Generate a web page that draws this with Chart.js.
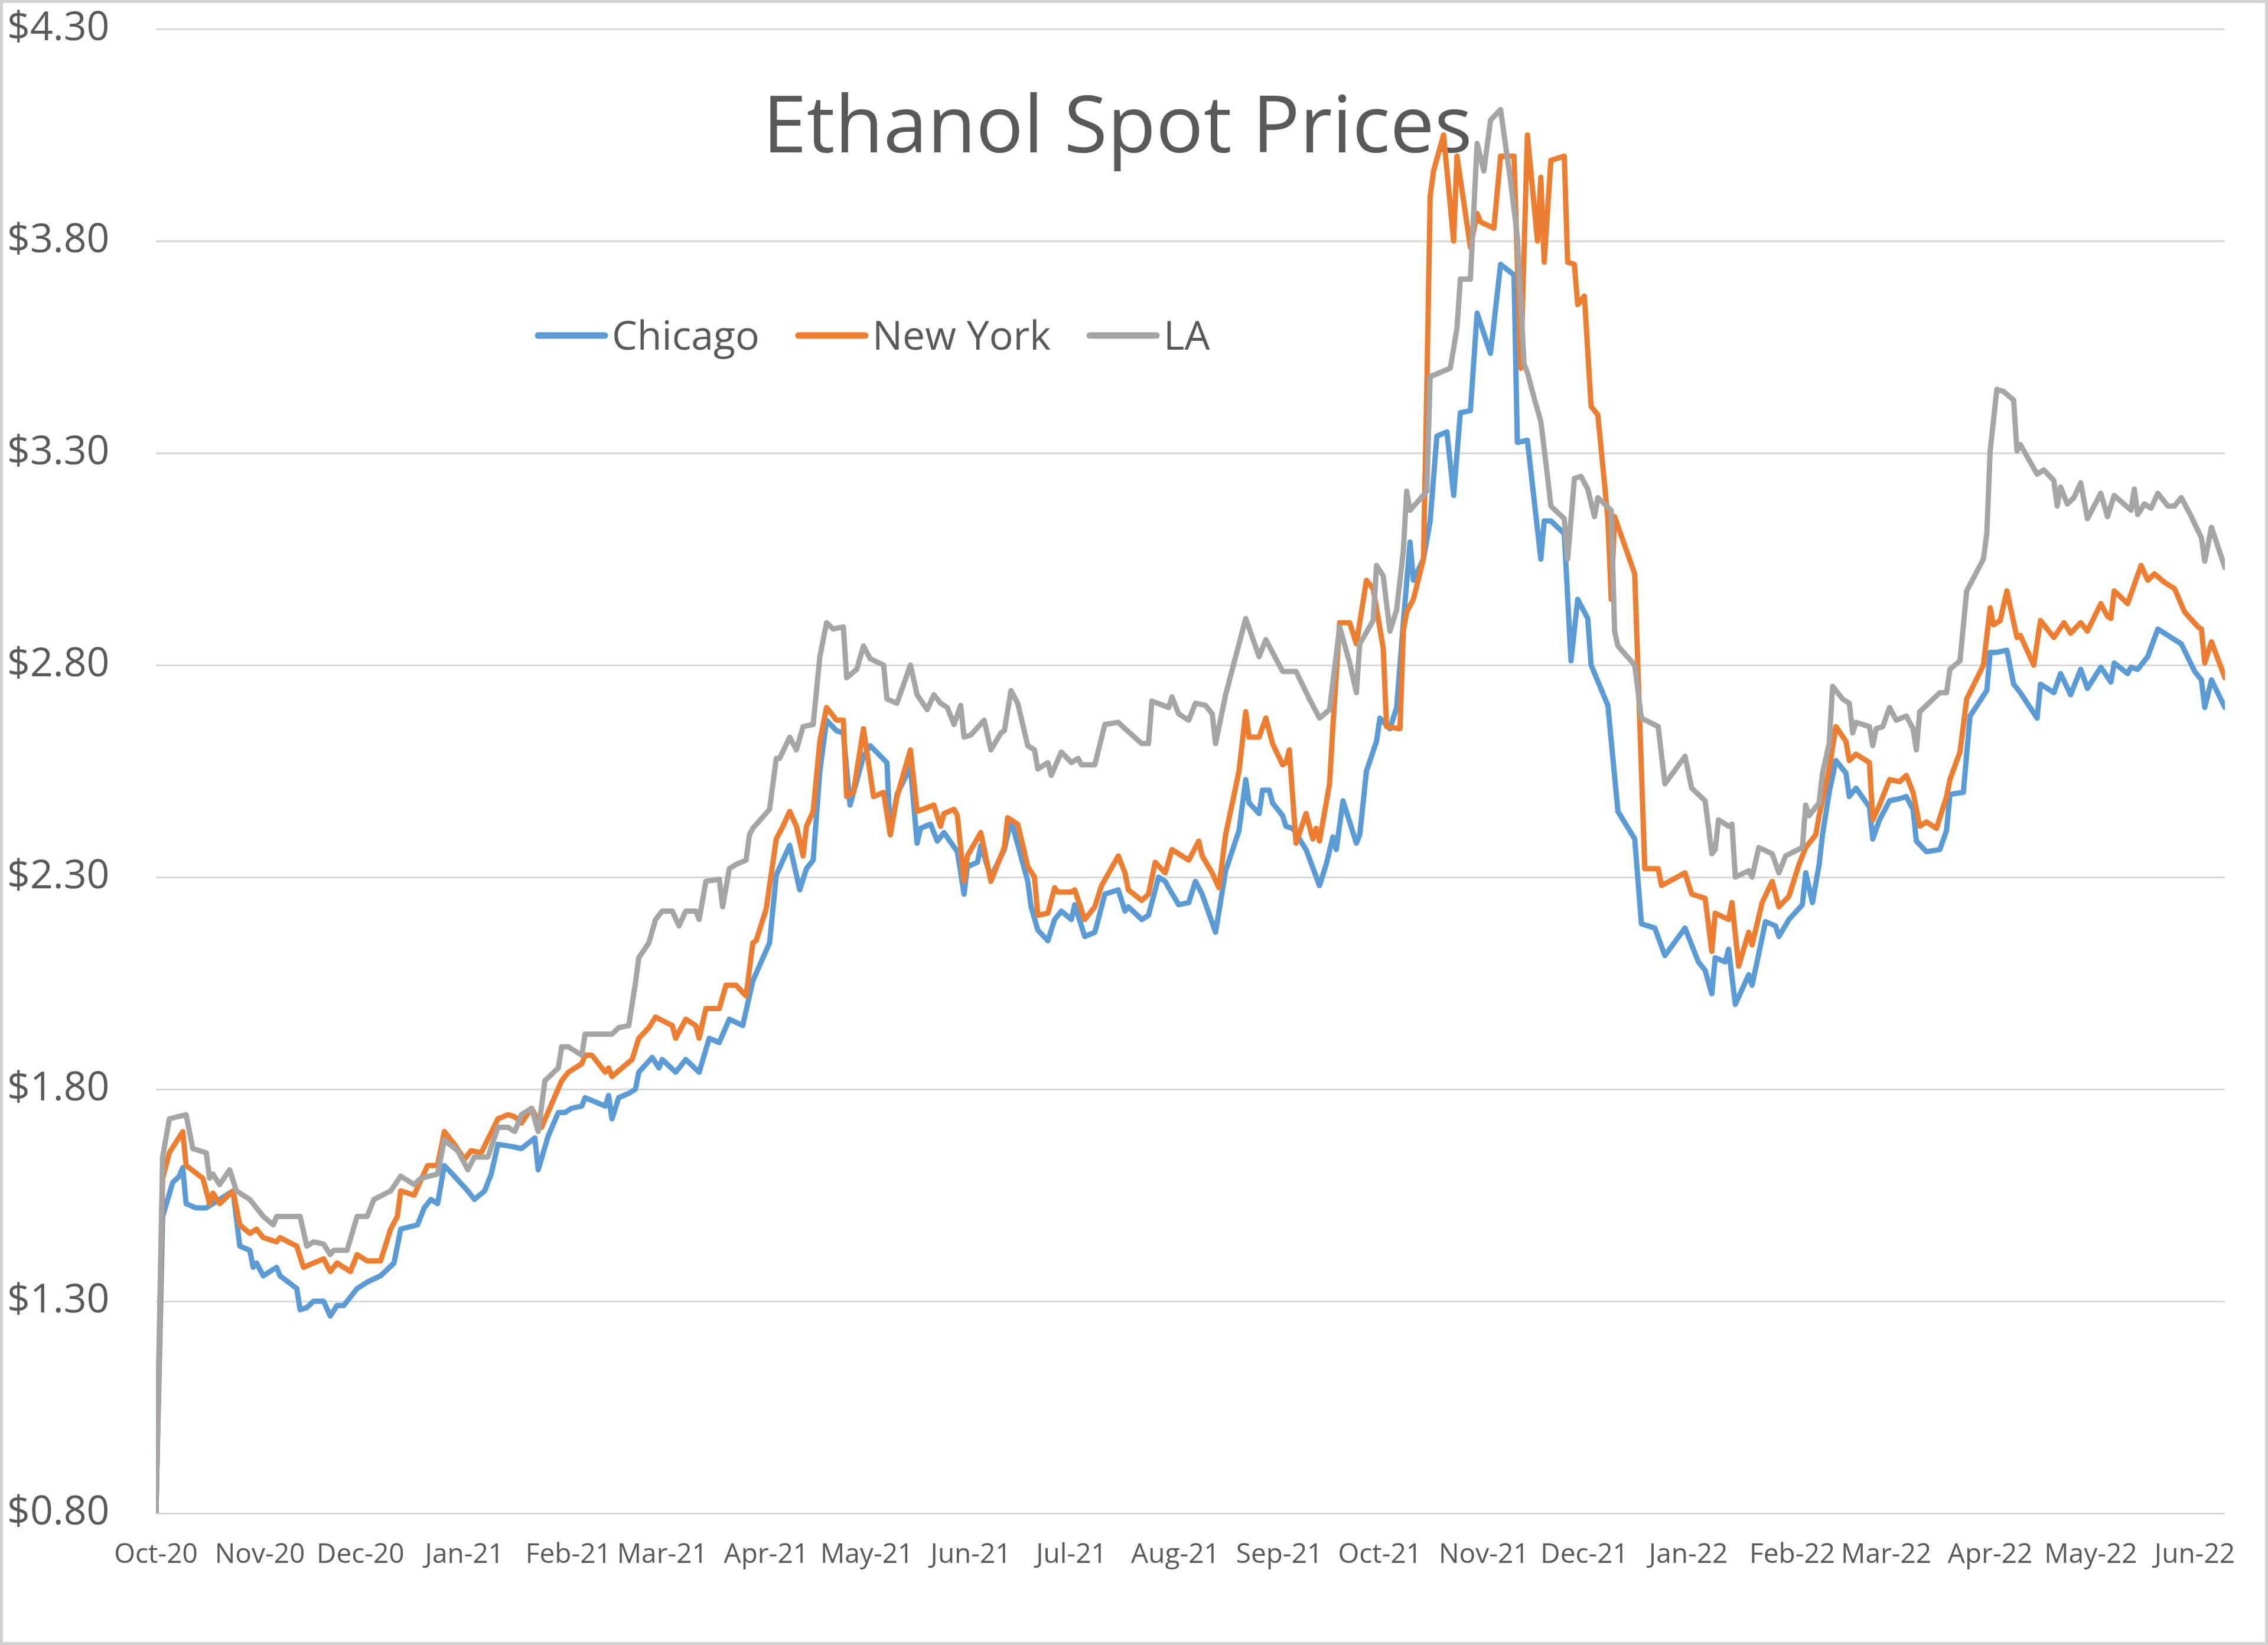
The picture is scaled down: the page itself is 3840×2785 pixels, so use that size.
<!DOCTYPE html>
<html>
<head>
<meta charset="utf-8">
<title>Ethanol Spot Prices</title>
<script src="https://cdn.jsdelivr.net/npm/chart.js@4.4.1/dist/chart.umd.min.js"></script>
<style>
  html, body { margin: 0; padding: 0; background: #fff; }
  #wrap { width: 3840px; height: 2785px; }
</style>
</head>
<body>
<div id="wrap"><canvas id="chart" width="3840" height="2785"></canvas></div>
<script>
// x values are days since 1 Oct 2020, y values are $/gal
const chartTitle = 'Ethanol Spot Prices';
const seriesNames = ['Chicago', 'New York', 'LA'];
const seriesColors = ['#5B9BD5', '#ED7D31', '#A5A5A5'];

const monthLabels = ['Oct-20', 'Nov-20', 'Dec-20', 'Jan-21', 'Feb-21', 'Mar-21', 'Apr-21', 'May-21', 'Jun-21', 'Jul-21', 'Aug-21',
    'Sep-21', 'Oct-21', 'Nov-21', 'Dec-21', 'Jan-22', 'Feb-22', 'Mar-22', 'Apr-22', 'May-22', 'Jun-22'];
const monthDays = [0, 31, 61, 92, 123, 151, 182, 212, 243, 273, 304, 335, 365, 396, 426, 457, 488, 516, 547, 577, 608];
const priceTicks = [0.8, 1.3, 1.8, 2.3, 2.8, 3.3, 3.8, 4.3];
const lastDay = 617;

const chicago = [[0,0.80],[2,1.50],[5,1.58],[7,1.595],[8,1.615],[9,1.53],[12,1.52],[15,1.52],[23,1.56],[25,1.43],[28,1.42],[29,1.38],
    [30,1.39],[32,1.36],[36,1.38],[37,1.36],[42,1.33],[43,1.28],[45,1.285],[47,1.30],[50,1.30],[52,1.265],[54,1.29],[56,1.29],[60,1.33],
    [63,1.345],[67,1.36],[71,1.39],[73,1.47],[78,1.48],[80,1.52],[82,1.54],[84,1.53],[86,1.62],[89,1.595],[93,1.56],[95,1.54],[98,1.56],
    [100,1.60],[102,1.67],[106,1.665],[109,1.66],[113,1.685],[114,1.61],[117,1.69],[120,1.745],[122,1.745],[124,1.755],[127,1.76],
    [128,1.78],[134,1.76],[135,1.785],[136,1.73],[138,1.78],[141,1.79],[143,1.80],[144,1.84],[148,1.875],[150,1.85],[151,1.87],[155,1.84],
    [158,1.87],[162,1.84],[165,1.92],[168,1.91],[171,1.965],[175,1.95],[178,2.055],[183,2.145],[185,2.305],[189,2.375],[192,2.27],
    [194,2.32],[196,2.34],[198,2.55],[200,2.67],[203,2.645],[205,2.64],[207,2.47],[211,2.585],[213,2.61],[218,2.57],[219,2.40],[221,2.495],
    [225,2.56],[227,2.38],[228,2.415],[231,2.425],[233,2.385],[235,2.405],[239,2.36],[241,2.26],[242,2.325],[245,2.335],[246,2.375],
    [249,2.30],[253,2.365],[255,2.435],[260,2.29],[261,2.23],[263,2.175],[266,2.15],[268,2.20],[270,2.22],[273,2.20],[274,2.235],[277,2.16],
    [280,2.17],[283,2.26],[287,2.27],[289,2.22],[290,2.23],[294,2.20],[296,2.21],[299,2.30],[301,2.29],[302,2.275],[305,2.235],[308,2.24],
    [310,2.29],[312,2.26],[314,2.215],[316,2.17],[319,2.315],[323,2.41],[325,2.53],[326,2.475],[329,2.45],[330,2.505],[332,2.505],
    [333,2.475],[336,2.445],[337,2.42],[339,2.415],[343,2.365],[347,2.28],[349,2.33],[351,2.395],[352,2.365],[354,2.48],[358,2.38],
    [359,2.40],[361,2.55],[364,2.62],[365,2.675],[368,2.65],[370,2.70],[372,2.90],[374,3.09],[375,3.00],[378,3.05],[380,3.14],[382,3.34],
    [385,3.35],[387,3.20],[389,3.395],[392,3.40],[394,3.63],[398,3.535],[401,3.745],[405,3.72],[406,3.325],[409,3.33],[413,3.05],
    [414,3.14],[416,3.14],[420,3.11],[422,2.81],[424,2.955],[427,2.91],[428,2.80],[433,2.705],[436,2.455],[441,2.39],[443,2.19],[447,2.18],
    [450,2.115],[456,2.18],[460,2.10],[462,2.08],[464,2.025],[465,2.11],[468,2.10],[469,2.13],[471,2.00],[473,2.035],[475,2.07],
    [476,2.045],[478,2.12],[480,2.195],[483,2.185],[484,2.16],[487,2.20],[491,2.235],[492,2.31],[494,2.24],[496,2.33],[497,2.40],
    [499,2.50],[501,2.575],[504,2.545],[505,2.49],[507,2.51],[511,2.465],[512,2.39],[514,2.435],[517,2.48],[520,2.485],[522,2.49],
    [524,2.46],[525,2.385],[528,2.36],[532,2.365],[534,2.41],[535,2.495],[539,2.50],[541,2.68],[546,2.74],[547,2.83],[549,2.83],
    [552,2.835],[554,2.755],[556,2.735],[561,2.675],[562,2.755],[566,2.735],[568,2.78],[571,2.73],[574,2.79],[576,2.745],[580,2.795],
    [583,2.76],[584,2.805],[588,2.78],[589,2.795],[591,2.79],[594,2.82],[597,2.885],[601,2.865],[604,2.85],[608,2.785],[610,2.765],
    [611,2.70],[613,2.765],[617,2.70]];

const newYork = [[0,0.80],[2,1.59],[4,1.65],[8,1.70],[9,1.62],[14,1.59],[16,1.53],[17,1.555],[19,1.53],[23,1.56],[25,1.48],[28,1.46],
    [30,1.47],[32,1.45],[36,1.44],[37,1.45],[42,1.43],[44,1.38],[50,1.40],[52,1.37],[54,1.39],[58,1.37],[60,1.41],[63,1.395],[67,1.395],
    [70,1.47],[72,1.50],[73,1.56],[77,1.55],[81,1.62],[84,1.62],[86,1.70],[89,1.67],[92,1.635],[94,1.655],[97,1.65],[102,1.73],[105,1.74],
    [107,1.735],[109,1.72],[112,1.755],[115,1.71],[121,1.82],[123,1.84],[127,1.86],[128,1.88],[130,1.88],[134,1.84],[135,1.85],[136,1.83],
    [142,1.87],[144,1.92],[147,1.945],[149,1.97],[154,1.95],[155,1.92],[158,1.965],[161,1.95],[162,1.92],[164,1.99],[168,1.99],[170,2.045],
    [173,2.045],[176,2.02],[178,2.145],[179,2.15],[182,2.225],[183,2.28],[185,2.39],[187,2.42],[189,2.455],[191,2.42],[193,2.35],
    [194,2.42],[196,2.455],[198,2.62],[200,2.70],[203,2.67],[205,2.67],[206,2.49],[208,2.50],[211,2.65],[214,2.49],[217,2.50],[219,2.40],
    [221,2.49],[225,2.60],[227,2.455],[232,2.47],[234,2.42],[235,2.45],[238,2.46],[239,2.445],[241,2.29],[242,2.35],[246,2.405],[249,2.29],
    [253,2.37],[254,2.44],[257,2.425],[260,2.325],[262,2.30],[263,2.21],[266,2.215],[268,2.275],[269,2.265],[273,2.265],[274,2.27],
    [277,2.20],[280,2.23],[282,2.28],[287,2.35],[289,2.31],[290,2.27],[294,2.245],[296,2.26],[298,2.335],[301,2.31],[303,2.365],[308,2.34],
    [311,2.385],[312,2.35],[315,2.31],[317,2.275],[319,2.40],[323,2.55],[325,2.69],[326,2.63],[329,2.63],[331,2.675],[333,2.615],
    [336,2.565],[337,2.57],[338,2.60],[340,2.38],[343,2.45],[345,2.39],[346,2.415],[347,2.385],[350,2.52],[351,2.655],[353,2.90],
    [356,2.90],[358,2.85],[361,3.00],[363,2.98],[366,2.84],[367,2.655],[371,2.65],[372,2.88],[373,2.925],[375,2.955],[378,3.05],[379,3.45],
    [380,3.905],[381,3.965],[384,4.05],[387,3.80],[388,4.00],[392,3.785],[394,3.865],[395,3.845],[399,3.83],[401,4.00],[405,4.00],
    [407,3.50],[409,4.05],[412,3.80],[413,3.95],[414,3.75],[416,3.99],[420,4.00],[421,3.75],[423,3.745],[424,3.65],[426,3.67],[428,3.41],
    [430,3.39],[433,3.145],[434,2.955],[435,3.15],[441,3.015],[444,2.32],[448,2.32],[449,2.28],[456,2.31],[458,2.26],[462,2.25],
    [464,2.125],[465,2.215],[469,2.20],[470,2.24],[472,2.09],[475,2.17],[476,2.14],[479,2.24],[482,2.29],[484,2.23],[487,2.255],
    [490,2.33],[492,2.37],[495,2.40],[496,2.445],[499,2.555],[501,2.655],[504,2.62],[505,2.575],[507,2.59],[511,2.57],[512,2.435],
    [514,2.47],[517,2.53],[520,2.525],[522,2.54],[524,2.50],[526,2.42],[528,2.43],[531,2.415],[534,2.49],[535,2.53],[538,2.595],
    [540,2.72],[545,2.80],[547,2.935],[548,2.895],[550,2.905],[552,2.975],[555,2.865],[556,2.87],[560,2.80],[562,2.905],[566,2.865],
    [569,2.90],[571,2.875],[574,2.90],[576,2.88],[580,2.945],[582,2.915],[583,2.91],[584,2.975],[588,2.945],[592,3.035],[594,3.00],
    [596,3.015],[599,2.995],[602,2.98],[605,2.925],[609,2.89],[610,2.885],[611,2.805],[613,2.855],[617,2.77]];

const losAngeles = [[0,0.80],[2,1.64],[4,1.73],[9,1.74],[11,1.66],[15,1.65],[16,1.59],[17,1.60],[19,1.575],[22,1.61],[24,1.56],[28,1.54],
    [32,1.50],[35,1.48],[36,1.50],[43,1.50],[45,1.43],[47,1.44],[50,1.435],[52,1.41],[53,1.42],[57,1.42],[60,1.50],[63,1.50],[65,1.54],
    [70,1.56],[73,1.595],[77,1.575],[79,1.59],[84,1.60],[86,1.68],[90,1.655],[93,1.61],[95,1.64],[99,1.64],[102,1.71],[105,1.71],[107,1.70],
    [109,1.74],[112,1.755],[114,1.70],[116,1.82],[120,1.85],[121,1.90],[123,1.90],[127,1.88],[128,1.93],[134,1.93],[136,1.93],[138,1.945],
    [141,1.95],[143,2.05],[144,2.11],[147,2.145],[149,2.20],[151,2.22],[154,2.22],[156,2.185],[158,2.22],[161,2.22],[162,2.20],[164,2.29],
    [168,2.295],[169,2.23],[171,2.32],[173,2.33],[176,2.34],[177,2.40],[178,2.415],[183,2.46],[185,2.58],[186,2.58],[189,2.63],[191,2.60],
    [193,2.655],[196,2.66],[198,2.82],[200,2.90],[202,2.885],[205,2.89],[206,2.77],[209,2.79],[211,2.845],[213,2.815],[217,2.80],[218,2.72],
    [221,2.71],[225,2.80],[227,2.73],[230,2.695],[232,2.73],[234,2.71],[236,2.70],[238,2.66],[240,2.705],[241,2.63],[243,2.635],[247,2.67],
    [249,2.60],[252,2.64],[253,2.645],[255,2.74],[257,2.71],[260,2.61],[262,2.60],[263,2.555],[266,2.57],[267,2.54],[270,2.595],[273,2.57],
    [275,2.58],[276,2.565],[280,2.565],[283,2.66],[287,2.665],[289,2.65],[294,2.615],[296,2.615],[297,2.715],[302,2.70],[303,2.725],
    [305,2.685],[308,2.67],[310,2.71],[313,2.705],[315,2.685],[316,2.615],[319,2.73],[322,2.82],[325,2.91],[329,2.82],[331,2.86],
    [336,2.785],[340,2.785],[344,2.72],[347,2.675],[350,2.695],[353,2.89],[356,2.805],[358,2.735],[359,2.85],[363,2.905],[364,3.035],
    [366,3.01],[368,2.88],[370,2.93],[372,3.07],[373,3.21],[374,3.165],[379,3.21],[380,3.48],[386,3.50],[388,3.595],[389,3.71],[392,3.71],
    [394,4.03],[396,3.965],[398,4.085],[401,4.11],[404,3.94],[406,3.81],[408,3.51],[409,3.49],[411,3.43],[413,3.375],[415,3.245],
    [416,3.175],[420,3.145],[421,3.05],[423,3.24],[425,3.245],[427,3.215],[429,3.15],[430,3.195],[434,3.165],[435,2.88],[436,2.845],
    [441,2.80],[443,2.675],[448,2.655],[450,2.52],[456,2.585],[458,2.51],[462,2.48],[464,2.355],[465,2.365],[466,2.435],[469,2.42],
    [470,2.425],[471,2.30],[475,2.315],[476,2.30],[478,2.37],[482,2.355],[484,2.31],[486,2.35],[491,2.37],[492,2.47],[493,2.445],
    [496,2.475],[497,2.545],[499,2.615],[500,2.75],[503,2.72],[505,2.71],[506,2.64],[507,2.665],[511,2.655],[512,2.61],[513,2.65],
    [515,2.655],[517,2.70],[519,2.67],[522,2.68],[524,2.65],[525,2.60],[526,2.69],[528,2.705],[532,2.735],[534,2.735],[535,2.79],
    [538,2.81],[540,2.975],[541,2.99],[545,3.05],[546,3.11],[547,3.305],[549,3.45],[551,3.445],[554,3.425],[555,3.305],[556,3.32],
    [561,3.25],[563,3.26],[566,3.235],[567,3.175],[568,3.22],[570,3.18],[572,3.195],[574,3.23],[576,3.145],[578,3.175],[580,3.205],
    [582,3.15],[584,3.20],[589,3.165],[590,3.215],[591,3.155],[593,3.18],[595,3.17],[597,3.205],[600,3.175],[602,3.175],[604,3.195],
    [607,3.15],[610,3.10],[611,3.045],[613,3.125],[617,3.03]];

const FONT = "'Open Sans', 'Noto Sans', sans-serif";
const TEXT_COLOR = '#595959';
const GRID_COLOR = '#d9d9d9';

function toPoints(rows) {
    return rows.map(r => ({ x: r[0], y: r[1] }));
}

function lineSet(i, rows, order) {
    return {
        label: seriesNames[i],
        data: toPoints(rows),
        borderColor: seriesColors[i],
        backgroundColor: seriesColors[i],
        borderWidth: 9,
        pointRadius: 0,
        tension: 0,
        borderJoinStyle: 'round',
        borderCapStyle: 'round',
        order: order
    };
}

// title + legend sit inside the plot, drawn under the lines like in Excel
const overlayText = {
    id: 'overlayText',
    beforeDatasetsDraw(chart) {
        const ctx = chart.ctx;
        const area = chart.chartArea;
        ctx.save();
        ctx.fillStyle = TEXT_COLOR;
        ctx.font = '134px ' + FONT;
        ctx.textAlign = 'center';
        ctx.textBaseline = 'alphabetic';
        ctx.fillText(chartTitle, area.left + 1628, area.top + 209);

        ctx.font = '68px ' + FONT;
        ctx.textAlign = 'left';
        let x = area.left + 647;
        const y = area.top + 519;
        chart.data.datasets.forEach(ds => {
            ctx.strokeStyle = ds.borderColor;
            ctx.lineWidth = 11;
            ctx.lineCap = 'round';
            ctx.beginPath();
            ctx.moveTo(x, y);
            ctx.lineTo(x + 113, y);
            ctx.stroke();
            ctx.fillText(ds.label, x + 125, y + 24);
            x += 125 + ctx.measureText(ds.label).width + 66;
        });
        ctx.restore();
    },
    afterDraw(chart) {
        const ctx = chart.ctx;
        ctx.save();
        ctx.strokeStyle = '#d0d0d0';
        ctx.lineWidth = 5;
        ctx.strokeRect(2.5, 2.5, chart.width - 5, chart.height - 5);
        ctx.restore();
    }
};

const ctx = document.getElementById('chart').getContext('2d');

let chart = new Chart(ctx, {
    type: 'line',
    data: {
        datasets: [
            lineSet(0, chicago, 2),
            lineSet(1, newYork, 1),
            lineSet(2, losAngeles, 0)
        ]
    },
    options: {
        responsive: false,
        animation: false,
        devicePixelRatio: 1,
        layout: { padding: { top: 49, left: 12, right: 73, bottom: 0 } },
        plugins: {
            legend: { display: false },
            title: { display: false },
            tooltip: { enabled: false }
        },
        scales: {
            x: {
                type: 'linear',
                min: 0,
                max: lastDay,
                grid: { display: false, drawTicks: false },
                border: { display: false },
                afterBuildTicks: axis => { axis.ticks = monthDays.map(v => ({ value: v })); },
                afterFit: axis => { axis.height = 223; },
                ticks: {
                    autoSkip: false,
                    maxRotation: 0,
                    minRotation: 0,
                    padding: 43,
                    color: TEXT_COLOR,
                    font: { family: FONT, size: 46 },
                    callback: v => monthLabels[monthDays.indexOf(v)]
                }
            },
            y: {
                min: 0.8,
                max: 4.3,
                grid: { color: GRID_COLOR, lineWidth: 3, drawTicks: false },
                border: { display: false },
                afterBuildTicks: axis => { axis.ticks = priceTicks.map(v => ({ value: v })); },
                afterFit: axis => { axis.width = 252; },
                ticks: {
                    crossAlign: 'far',
                    padding: 0,
                    color: TEXT_COLOR,
                    font: { family: FONT, size: 68 },
                    callback: v => '$' + v.toFixed(2)
                }
            }
        }
    },
    plugins: [overlayText]
});
</script>
</body>
</html>
